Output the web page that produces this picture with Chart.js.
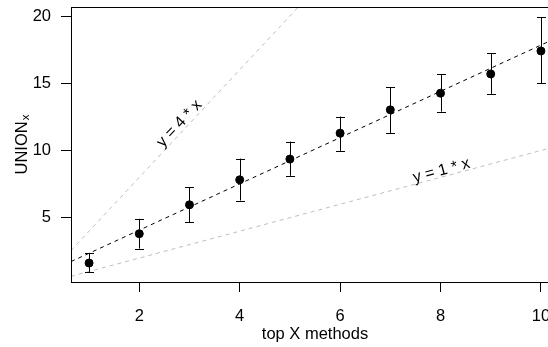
<!DOCTYPE html>
<html>
<head>
<meta charset="utf-8">
<script src="https://cdn.jsdelivr.net/npm/chart.js@4.4.1/dist/chart.umd.min.js"></script>
<style>
  html, body { margin: 0; padding: 0; background: #fff; overflow: hidden; }
  #wrap { width: 564px; height: 347px; }
</style>
</head>
<body>
<div id="wrap"><canvas id="chart" width="564" height="347"></canvas></div>
<script>
// values
const topX = [1, 2, 3, 4, 5, 6, 7, 8, 9, 10];
const unionMean = [1.63, 3.81, 5.96, 7.82, 9.36, 11.29, 13.02, 14.26, 15.69, 17.40];
const unionUpper = [2.38, 4.92, 7.28, 9.40, 10.66, 12.52, 14.70, 15.67, 17.23, 19.90];
const unionLower = [0.97, 2.70, 4.68, 6.28, 8.12, 9.97, 11.29, 12.89, 14.21, 15.00];

const xTicks = [2, 4, 6, 8, 10];
const yTicks = [5, 10, 15, 20];
const xRange = [0.64, 10.36];
const yRange = [0.22, 20.67];

// fitted line and reference lines: [intercept, slope]
const fitLine = [0.637, 1.72];
const refLines = [[0, 4], [0, 1]];
// line labels: text, x, y, angle (deg)
const lineLabels = [
  ['y = 4 * x', 2.8, 12.0, -47],
  ['y = 1 * x', 8.02, 8.5, -15]
];

const FONT = '"Liberation Sans", Arial, Helvetica, sans-serif';

function ablinePoints(coef) {
  return xRange.map(x => ({ x: x, y: coef[0] + coef[1] * x }));
}

const chartCanvas = document.getElementById('chart');

const boxAndBars = {
  id: 'boxAndBars',
  afterDatasetsDraw(chart) {
    const ctx = chart.ctx;
    const xs = chart.scales.x, ys = chart.scales.y;
    const a = chart.chartArea;
    ctx.save();
    // error bars
    ctx.strokeStyle = '#000';
    ctx.lineWidth = 1;
    topX.forEach((v, i) => {
      const px = Math.round(xs.getPixelForValue(v)) + 0.5;
      const top = ys.getPixelForValue(unionUpper[i]);
      const bot = ys.getPixelForValue(unionLower[i]);
      ctx.beginPath();
      ctx.moveTo(px, top); ctx.lineTo(px, bot);
      ctx.moveTo(px - 4.5, Math.round(top) + 0.5); ctx.lineTo(px + 4.5, Math.round(top) + 0.5);
      ctx.moveTo(px - 4.5, Math.round(bot) + 0.5); ctx.lineTo(px + 4.5, Math.round(bot) + 0.5);
      ctx.stroke();
    });
    // plot box
    ctx.strokeRect(a.left + 0.5, a.top + 0.5, a.right - a.left, a.bottom - a.top);

    // line labels
    ctx.fillStyle = '#000';
    ctx.font = '16px ' + FONT;
    ctx.textAlign = 'center';
    ctx.textBaseline = 'middle';
    lineLabels.forEach(l => {
      ctx.save();
      ctx.translate(xs.getPixelForValue(l[1]), ys.getPixelForValue(l[2]));
      ctx.rotate(l[3] * Math.PI / 180);
      ctx.fillText(l[0], 0, 0);
      ctx.restore();
    });

    // axis titles
    ctx.font = '16.5px ' + FONT;
    ctx.textBaseline = 'alphabetic';
    ctx.fillText('top X methods', (a.left + a.right) / 2, 339);

    const mainW = ctx.measureText('UNION').width;
    ctx.font = '11.5px ' + FONT;
    const subW = ctx.measureText('x').width;
    const total = mainW + 1 + subW;
    ctx.save();
    ctx.translate(27, (a.top + a.bottom) / 2 + total / 2);
    ctx.rotate(-Math.PI / 2);
    ctx.textAlign = 'left';
    ctx.font = '16.5px ' + FONT;
    ctx.fillText('UNION', 0, 0);
    ctx.font = '11.5px ' + FONT;
    ctx.fillText('x', mainW + 1, 2);
    ctx.restore();
    ctx.restore();
  }
};

const lineStyle = (color) => ({
  type: 'line',
  borderColor: color,
  borderWidth: 1,
  borderDash: [4, 4],
  pointRadius: 0,
  fill: false
});

function noPad(s) {
  s.paddingTop = 0; s.paddingBottom = 0; s.paddingLeft = 0; s.paddingRight = 0;
}

new Chart(chartCanvas, {
  type: 'scatter',
  data: {
    datasets: [
      Object.assign({ data: ablinePoints(refLines[0]) }, lineStyle('#bebebe')),
      Object.assign({ data: ablinePoints(refLines[1]) }, lineStyle('#bebebe')),
      Object.assign({ data: ablinePoints(fitLine) }, lineStyle('#000')),
      {
        data: topX.map((x, i) => ({ x: x, y: unionMean[i] })),
        backgroundColor: '#000',
        borderColor: '#000',
        pointRadius: 4,
        pointHoverRadius: 4,
        showLine: false
      }
    ]
  },
  options: {
    responsive: false,
    animation: false,
    layout: { padding: { top: 7, left: 0, right: 0, bottom: 0 } },
    plugins: { legend: { display: false }, tooltip: { enabled: false } },
    scales: {
      x: {
        type: 'linear',
        min: xRange[0],
        max: xRange[1],
        afterBuildTicks: s => { s.ticks = xTicks.map(v => ({ value: v })); },
        afterFit: s => { s.height = 65; noPad(s); },
        border: { display: false },
        grid: { drawOnChartArea: false, drawTicks: true, tickLength: 10, tickColor: '#000' },
        ticks: { color: '#000', padding: 18, maxRotation: 0, font: { family: FONT, size: 16.5, lineHeight: 0.8 } }
      },
      y: {
        type: 'linear',
        min: yRange[0],
        max: yRange[1],
        afterBuildTicks: s => { s.ticks = yTicks.map(v => ({ value: v })); },
        afterFit: s => { s.width = 71; noPad(s); },
        border: { display: false },
        grid: { drawOnChartArea: false, drawTicks: true, tickLength: 10, tickColor: '#000' },
        ticks: { color: '#000', padding: 10, font: { family: FONT, size: 16.5, lineHeight: 0.8 } }
      }
    }
  },
  plugins: [boxAndBars]
});
</script>
</body>
</html>
